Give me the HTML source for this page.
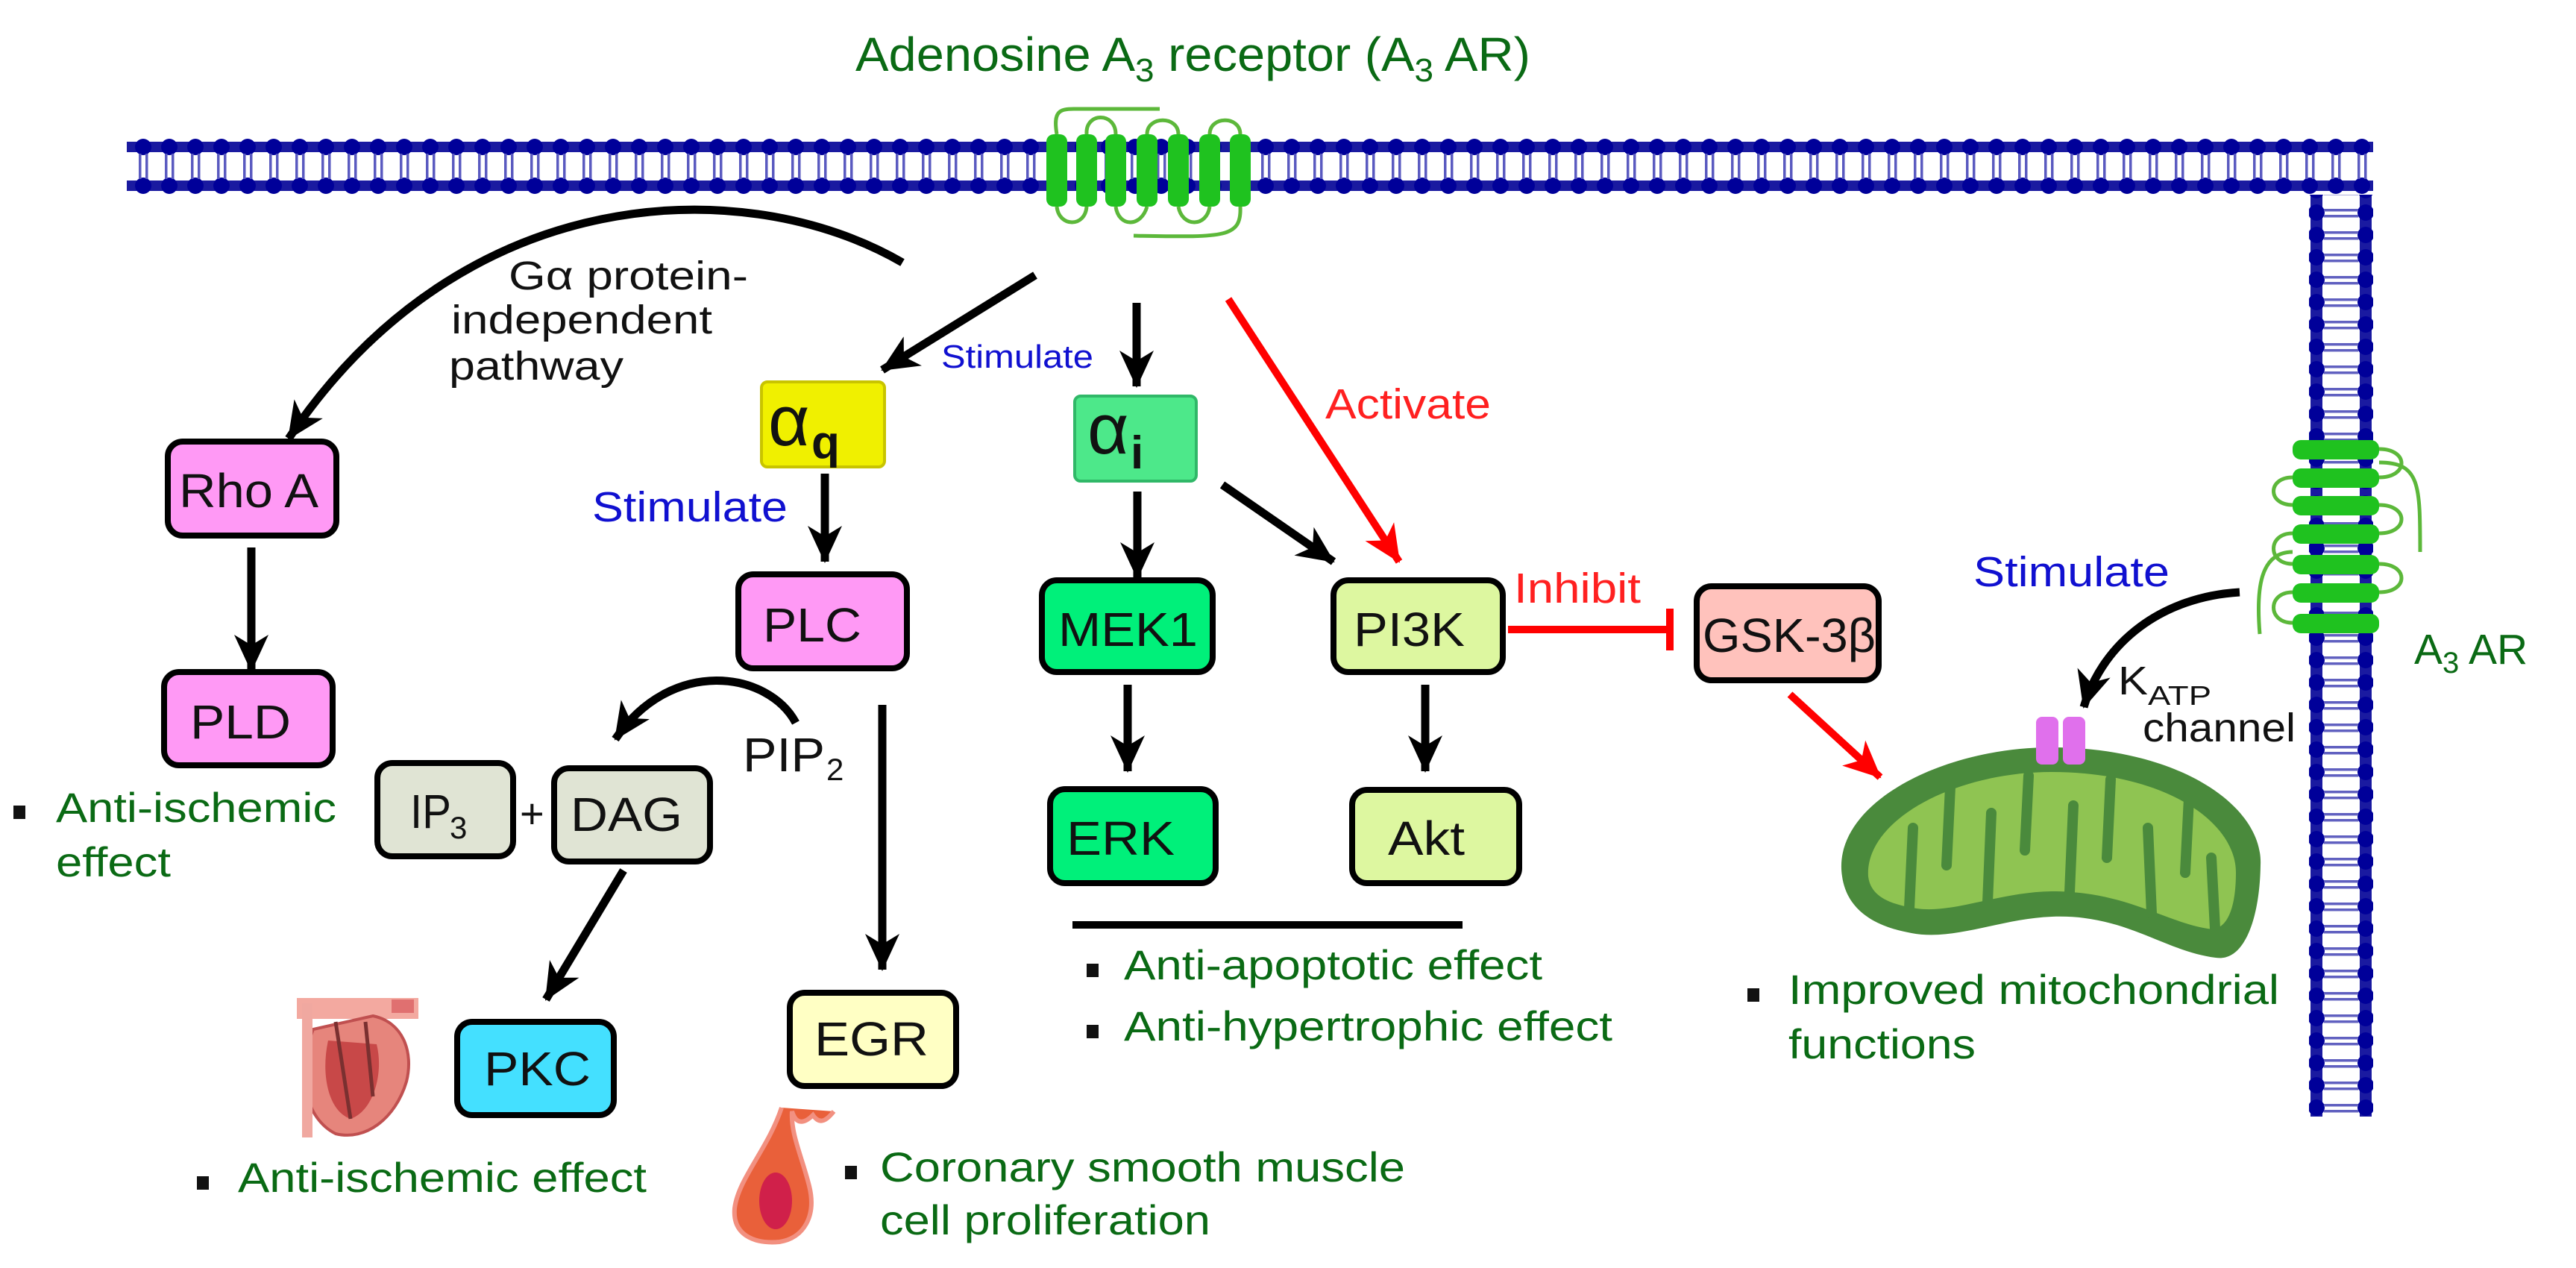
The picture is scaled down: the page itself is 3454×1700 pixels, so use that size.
<!DOCTYPE html>
<html><head><meta charset="utf-8"><style>
html,body{margin:0;padding:0;background:#fff;}
svg{display:block;}
text{font-family:"Liberation Sans",sans-serif;}
</style></head><body>
<svg width="3454" height="1700" viewBox="0 0 3454 1700" xmlns="http://www.w3.org/2000/svg">
<defs>
<marker id="ab" markerUnits="userSpaceOnUse" markerWidth="60" markerHeight="60" refX="48" refY="25" orient="auto">
<path d="M0,2 L50,25 L0,48 L14,25 Z" fill="#000"/></marker>
<marker id="ar" markerUnits="userSpaceOnUse" markerWidth="60" markerHeight="60" refX="48" refY="25" orient="auto">
<path d="M0,2 L50,25 L0,48 L14,25 Z" fill="#f00"/></marker>
<pattern id="memH" x="0" y="186" width="35" height="75" patternUnits="userSpaceOnUse">
<rect x="0" y="4" width="35" height="14" fill="#1a1aa0"/>
<rect x="0" y="56" width="35" height="14" fill="#1a1aa0"/>
<circle cx="17" cy="11" r="11" fill="#000099"/>
<circle cx="17" cy="63" r="11" fill="#000099"/>
<rect x="11" y="20" width="3.5" height="34" fill="#5a5ac0"/>
<rect x="20" y="20" width="3.5" height="34" fill="#5a5ac0"/>
</pattern>
<pattern id="memV" x="3096" y="0" width="86" height="30" patternUnits="userSpaceOnUse">
<rect x="2" y="0" width="16" height="30" fill="#1a1aa0"/>
<rect x="68" y="0" width="16" height="30" fill="#1a1aa0"/>
<circle cx="10" cy="15" r="11" fill="#000099"/>
<circle cx="76" cy="15" r="11" fill="#000099"/>
<rect x="20" y="10" width="46" height="3.5" fill="#6060c0"/>
<rect x="20" y="18" width="46" height="3.5" fill="#6060c0"/>
</pattern>
</defs>

<!-- membranes -->
<rect x="170" y="186" width="3012" height="75" fill="url(#memH)"/>
<rect x="3096" y="261" width="86" height="1236" fill="url(#memV)"/>

<!-- top receptor -->
<g fill="none" stroke="#5cb83a" stroke-width="5">
<path d="M1417,180 C1412,150 1420,146 1440,146 L1555,146"/>
<path d="M1457,180 C1455,150 1496,150 1496,180"/>
<path d="M1538,180 C1538,155 1580,155 1580,180"/>
<path d="M1622,180 C1622,155 1663,155 1663,180"/>
<path d="M1417,277 C1420,305 1455,305 1457,277"/>
<path d="M1496,277 C1500,305 1530,305 1538,277"/>
<path d="M1580,277 C1585,305 1618,305 1622,277"/>
<path d="M1663,277 C1665,320 1640,318 1520,316"/>
</g>
<g fill="#1fc21f">
<rect x="1403" y="180" width="28" height="97" rx="10"/>
<rect x="1443" y="180" width="28" height="97" rx="10"/>
<rect x="1482" y="180" width="28" height="97" rx="10"/>
<rect x="1524" y="180" width="28" height="97" rx="10"/>
<rect x="1566" y="180" width="28" height="97" rx="10"/>
<rect x="1608" y="180" width="28" height="97" rx="10"/>
<rect x="1649" y="180" width="28" height="97" rx="10"/>
</g>

<!-- right receptor -->
<g fill="none" stroke="#5cb83a" stroke-width="5">
<path d="M3190,602 C3230,602 3230,640 3190,640"/>
<path d="M3190,677 C3230,677 3230,715 3190,715"/>
<path d="M3190,756 C3230,756 3230,794 3190,794"/>
<path d="M3074,640 C3040,640 3040,677 3074,677"/>
<path d="M3074,715 C3040,715 3040,756 3074,756"/>
<path d="M3074,794 C3040,794 3040,835 3074,835"/>
<path d="M3190,620 C3245,620 3245,650 3245,740"/>
<path d="M3074,740 C3030,740 3025,790 3030,850"/>
</g>
<g fill="#1fc21f">
<rect x="3074" y="590" width="116" height="26" rx="11"/>
<rect x="3074" y="628" width="116" height="26" rx="11"/>
<rect x="3074" y="665" width="116" height="26" rx="11"/>
<rect x="3074" y="703" width="116" height="26" rx="11"/>
<rect x="3074" y="744" width="116" height="26" rx="11"/>
<rect x="3074" y="782" width="116" height="26" rx="11"/>
<rect x="3074" y="823" width="116" height="26" rx="11"/>
</g>

<!-- title -->
<text x="1147" y="95" font-size="64" fill="#0a6a14" textLength="905" lengthAdjust="spacingAndGlyphs">Adenosine A<tspan font-size="44" dy="14">3</tspan><tspan dy="-14"> receptor (A</tspan><tspan font-size="44" dy="14">3</tspan><tspan dy="-14"> AR)</tspan></text>

<!-- arrows -->
<g fill="none" stroke="#000" stroke-width="11">
<path d="M1210,352 C1000,230 620,240 387,588" marker-end="url(#ab)"/>
<path d="M1388,369 L1183,496" marker-end="url(#ab)"/>
<path d="M1524,406 L1524,518" marker-end="url(#ab)"/>
<path d="M1106,635 L1106,753" marker-end="url(#ab)"/>
<path d="M337,734 L337,899" marker-end="url(#ab)"/>
<path d="M1525,659 L1525,775" marker-end="url(#ab)"/>
<path d="M1639,650 L1788,753" marker-end="url(#ab)"/>
<path d="M1512,918 L1512,1034" marker-end="url(#ab)"/>
<path d="M1911,918 L1911,1034" marker-end="url(#ab)"/>
<path d="M1183,945 L1183,1300" marker-end="url(#ab)"/>
<path d="M836,1167 L732,1340" marker-end="url(#ab)"/>
<path d="M1067,969 C1030,900 900,880 825,991" marker-end="url(#ab)"/>
<path d="M3003,794 C2900,800 2820,860 2794,948" marker-end="url(#ab)"/>
</g>
<g fill="none" stroke="#f00" stroke-width="10">
<path d="M1647,401 L1876,753" marker-end="url(#ar)"/>
<path d="M2400,931 L2521,1042" marker-end="url(#ar)"/>
<path d="M2022,844 L2239,844"/>
<path d="M2239,816 L2239,872"/>
</g>
<rect x="1438" y="1235" width="523" height="10" fill="#000"/>

<!-- boxes -->
<g stroke="#000" stroke-width="8">
<rect x="225" y="592" width="226" height="126" rx="20" fill="#ff99f5"/>
<rect x="220" y="901" width="226" height="125" rx="20" fill="#ff99f5"/>
<rect x="990" y="770" width="226" height="126" rx="20" fill="#ff99f5"/>
<rect x="506" y="1023" width="182" height="125" rx="20" fill="#e0e4d4"/>
<rect x="743" y="1030" width="209" height="125" rx="20" fill="#e0e4d4"/>
<rect x="613" y="1370" width="210" height="125" rx="20" fill="#44e0ff"/>
<rect x="1059" y="1331" width="223" height="125" rx="20" fill="#ffffc4"/>
<rect x="1397" y="778" width="229" height="123" rx="20" fill="#00f07a"/>
<rect x="1408" y="1058" width="222" height="126" rx="20" fill="#00f07a"/>
<rect x="1788" y="778" width="227" height="123" rx="20" fill="#ddf7a0"/>
<rect x="1813" y="1059" width="224" height="125" rx="20" fill="#ddf7a0"/>
<rect x="2275" y="786" width="244" height="126" rx="20" fill="#ffc2bc"/>
</g>
<rect x="1021" y="512" width="165" height="114" rx="8" fill="#f0f000" stroke="#c8c400" stroke-width="4"/>
<rect x="1441" y="531" width="163" height="114" rx="8" fill="#4de88a" stroke="#30b868" stroke-width="4"/>

<!-- box labels -->
<g font-size="64" fill="#111">
<text x="240" y="680" textLength="187" lengthAdjust="spacingAndGlyphs">Rho A</text>
<text x="255" y="990" textLength="135" lengthAdjust="spacingAndGlyphs">PLD</text>
<text x="1023" y="860" textLength="132" lengthAdjust="spacingAndGlyphs">PLC</text>
<text x="550" y="1110" textLength="55" lengthAdjust="spacingAndGlyphs">IP</text>
<text x="603" y="1124" font-size="42">3</text>
<text x="697" y="1110" font-size="56">+</text>
<text x="765" y="1114" textLength="150" lengthAdjust="spacingAndGlyphs">DAG</text>
<text x="649" y="1455" textLength="143" lengthAdjust="spacingAndGlyphs">PKC</text>
<text x="1092" y="1415" textLength="153" lengthAdjust="spacingAndGlyphs">EGR</text>
<text x="1419" y="866" textLength="187" lengthAdjust="spacingAndGlyphs">MEK1</text>
<text x="1430" y="1146" textLength="145" lengthAdjust="spacingAndGlyphs">ERK</text>
<text x="1815" y="866" textLength="149" lengthAdjust="spacingAndGlyphs">PI3K</text>
<text x="1861" y="1146" textLength="103" lengthAdjust="spacingAndGlyphs">Akt</text>
<text x="2283" y="874" textLength="232" lengthAdjust="spacingAndGlyphs">GSK-3β</text>
<text x="996" y="1034" textLength="110" lengthAdjust="spacingAndGlyphs">PIP</text>
<text x="1108" y="1046" font-size="42">2</text>
</g>
<text x="1030" y="597" font-family="Liberation Serif,serif" font-size="96" fill="#111">α</text>
<text x="1088" y="614" font-size="62" font-weight="bold" fill="#111">q</text>
<text x="1458" y="608" font-family="Liberation Serif,serif" font-size="96" fill="#111">α</text>
<text x="1516" y="628" font-size="62" font-weight="bold" fill="#111">i</text>

<!-- pathway labels -->
<g font-size="54" fill="#111">
<text x="682" y="388" textLength="321" lengthAdjust="spacingAndGlyphs">Gα protein-</text>
<text x="605" y="447" textLength="350" lengthAdjust="spacingAndGlyphs">independent</text>
<text x="602" y="509" textLength="234" lengthAdjust="spacingAndGlyphs">pathway</text>
<text x="2840" y="931" textLength="40" lengthAdjust="spacingAndGlyphs">K</text>
<text x="2880" y="945" font-size="36" textLength="85" lengthAdjust="spacingAndGlyphs">ATP</text>
<text x="2873" y="994" textLength="205" lengthAdjust="spacingAndGlyphs">channel</text>
</g>
<text x="1262" y="493" font-size="44" fill="#1010d0" textLength="204" lengthAdjust="spacingAndGlyphs">Stimulate</text>
<text x="794" y="699" font-size="57" fill="#1010d0" textLength="262" lengthAdjust="spacingAndGlyphs">Stimulate</text>
<text x="2646" y="786" font-size="57" fill="#1010d0" textLength="263" lengthAdjust="spacingAndGlyphs">Stimulate</text>
<text x="1777" y="561" font-size="57" fill="#ff2020" textLength="222" lengthAdjust="spacingAndGlyphs">Activate</text>
<text x="2030" y="808" font-size="57" fill="#ff2020" textLength="170" lengthAdjust="spacingAndGlyphs">Inhibit</text>
<text x="3237" y="890" font-size="57" fill="#0a6a14">A<tspan font-size="40" dy="12">3</tspan><tspan dy="-12"> AR</tspan></text>

<!-- effects -->
<g fill="#111">
<rect x="18" y="1080" width="16" height="18"/>
<rect x="264" y="1577" width="16" height="18"/>
<rect x="1133" y="1563" width="16" height="18"/>
<rect x="1457" y="1292" width="16" height="18"/>
<rect x="1457" y="1374" width="16" height="18"/>
<rect x="2343" y="1325" width="16" height="18"/>
</g>
<g font-size="56" fill="#0a6a14">
<text x="75" y="1102" textLength="376" lengthAdjust="spacingAndGlyphs">Anti-ischemic</text>
<text x="75" y="1175" textLength="154" lengthAdjust="spacingAndGlyphs">effect</text>
<text x="319" y="1598" textLength="548" lengthAdjust="spacingAndGlyphs">Anti-ischemic effect</text>
<text x="1180" y="1584" textLength="704" lengthAdjust="spacingAndGlyphs">Coronary smooth muscle</text>
<text x="1180" y="1655" textLength="443" lengthAdjust="spacingAndGlyphs">cell proliferation</text>
<text x="1507" y="1313" textLength="561" lengthAdjust="spacingAndGlyphs">Anti-apoptotic effect</text>
<text x="1507" y="1395" textLength="655" lengthAdjust="spacingAndGlyphs">Anti-hypertrophic effect</text>
<text x="2398" y="1346" textLength="658" lengthAdjust="spacingAndGlyphs">Improved mitochondrial</text>
<text x="2398" y="1419" textLength="251" lengthAdjust="spacingAndGlyphs">functions</text>
</g>

<!-- mitochondrion -->
<path d="M2470,1175 C2455,1080 2600,1002 2751,1002 C2920,1002 3035,1080 3031,1160 C3030,1230 3010,1290 2971,1284 C2900,1275 2850,1225 2751,1229 C2680,1232 2620,1262 2563,1251 C2500,1240 2475,1210 2470,1175 Z" fill="#4a8a3c"/>
<path d="M2505,1175 C2500,1100 2620,1035 2751,1035 C2900,1035 2998,1100 2998,1170 C2998,1220 2985,1250 2960,1245 C2900,1235 2850,1195 2751,1195 C2680,1196 2620,1225 2570,1218 C2530,1212 2508,1200 2505,1175 Z" fill="#8fc452"/>
<g fill="none" stroke="#4a8a3c" stroke-width="14" stroke-linecap="round">
<path d="M2560,1218 L2565,1110"/>
<path d="M2615,1055 L2610,1160"/>
<path d="M2665,1210 L2670,1090"/>
<path d="M2720,1040 L2715,1140"/>
<path d="M2775,1196 L2780,1080"/>
<path d="M2830,1045 L2825,1150"/>
<path d="M2885,1225 L2880,1110"/>
<path d="M2935,1070 L2930,1170"/>
<path d="M2970,1245 L2965,1150"/>
</g>
<rect x="2730" y="961" width="30" height="64" rx="8" fill="#e070ec"/>
<rect x="2766" y="961" width="30" height="64" rx="8" fill="#e070ec"/>

<!-- heart -->
<g>
<rect x="398" y="1338" width="163" height="28" fill="#f3a9a0"/>
<path d="M420,1380 C395,1440 410,1500 450,1520 C490,1530 530,1500 545,1450 C555,1410 540,1370 500,1362 Z" fill="#e6857c" stroke="#c05050" stroke-width="4"/>
<path d="M440,1395 C430,1440 440,1490 470,1500 C500,1490 515,1440 505,1400 Z" fill="#c84848"/>
<path d="M450,1370 L470,1500 M490,1370 L500,1470" stroke="#7a3030" stroke-width="5"/>
<rect x="405" y="1345" width="14" height="180" fill="#f0a8a0"/>
<rect x="525" y="1340" width="30" height="18" fill="#e07070"/>
</g>

<!-- smooth muscle cell -->
<path d="M1048,1485 C1030,1540 990,1580 985,1620 C982,1655 1010,1668 1045,1665 C1078,1660 1095,1630 1085,1590 C1075,1550 1060,1520 1062,1490 C1068,1510 1080,1505 1090,1495 C1100,1510 1110,1500 1118,1490" fill="#e9603a" stroke="#f29080" stroke-width="6"/>
<ellipse cx="1040" cy="1610" rx="22" ry="38" fill="#d0204a"/>
</svg>
</body></html>
